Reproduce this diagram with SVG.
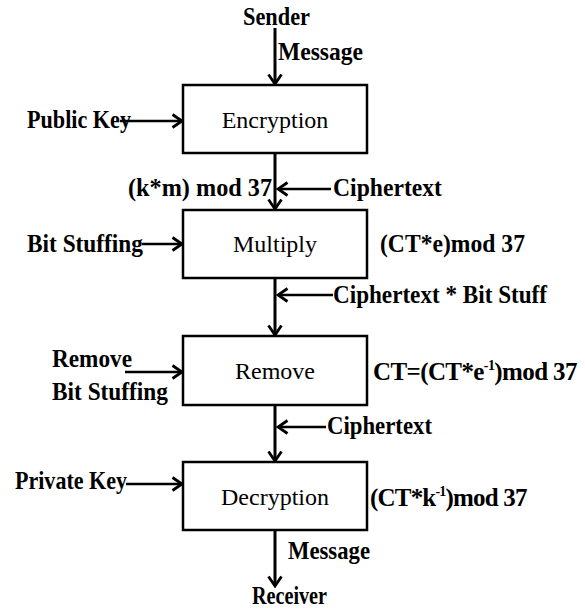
<svg xmlns="http://www.w3.org/2000/svg" width="585" height="612" viewBox="0 0 585 612">
<style>
.box{fill:#fff;stroke:#000;stroke-width:2.5}
.lbl{font-family:"Liberation Serif",serif;font-size:24px;fill:#000;text-anchor:middle}
.b{font-family:"Liberation Serif",serif;font-size:25px;font-weight:bold;fill:#000}
.ln{stroke:#000;stroke-width:3;fill:none}
.hn{stroke:#000;stroke-width:2.5;fill:none}
</style>
<defs>
<marker id="ah" markerWidth="13" markerHeight="16" refX="11" refY="8" orient="auto" markerUnits="userSpaceOnUse">
<path d="M1.5,1.5 L11,8 L1.5,14.5" fill="none" stroke="#000" stroke-width="2.8"/>
</marker>
</defs>
<g id="connectors">
<line class="ln" x1="275" y1="28" x2="275" y2="84" marker-end="url(#ah)"/>
<line class="ln" x1="275" y1="153" x2="275" y2="209" marker-end="url(#ah)"/>
<line class="ln" x1="275" y1="278" x2="275" y2="335" marker-end="url(#ah)"/>
<line class="ln" x1="275" y1="405" x2="275" y2="461" marker-end="url(#ah)"/>
<line class="ln" x1="275" y1="530" x2="275" y2="586" marker-end="url(#ah)"/>
<line class="hn" x1="120" y1="121" x2="182" y2="121" marker-end="url(#ah)"/>
<line class="hn" x1="142" y1="244" x2="182" y2="244" marker-end="url(#ah)"/>
<line class="hn" x1="125" y1="372" x2="182" y2="372" marker-end="url(#ah)"/>
<line class="hn" x1="126" y1="484" x2="182" y2="484" marker-end="url(#ah)"/>
<line class="hn" x1="331" y1="189" x2="278" y2="189" marker-end="url(#ah)"/>
<line class="hn" x1="333" y1="295" x2="278" y2="295" marker-end="url(#ah)"/>
<line class="hn" x1="326" y1="427" x2="278" y2="427" marker-end="url(#ah)"/>
</g>
<g id="sender"><text class="b" x="243" y="25" textLength="67" lengthAdjust="spacingAndGlyphs">Sender</text></g>
<g id="msg-top"><text class="b" x="278" y="60" textLength="85" lengthAdjust="spacingAndGlyphs">Message</text></g>
<g id="encryption">
<rect class="box" x="183" y="85" width="184" height="68"/>
<text class="lbl" x="275" y="128" font-family="Liberation Serif">Encryption</text>
</g>
<g id="public-key"><text class="b" x="27" y="128" textLength="104" lengthAdjust="spacingAndGlyphs">Public Key</text></g>
<g id="km"><text class="b" x="128" y="196" textLength="144" lengthAdjust="spacingAndGlyphs">(k*m) mod 37</text></g>
<g id="ct1"><text class="b" x="333" y="196" textLength="109" lengthAdjust="spacingAndGlyphs">Ciphertext</text></g>
<g id="multiply">
<rect class="box" x="183" y="210" width="184" height="68"/>
<text class="lbl" x="275" y="252" font-family="Liberation Serif">Multiply</text>
</g>
<g id="bit-stuffing"><text class="b" x="27" y="252" textLength="116" lengthAdjust="spacingAndGlyphs">Bit Stuffing</text></g>
<g id="cte"><text class="b" x="380" y="252" textLength="145" lengthAdjust="spacingAndGlyphs">(CT*e)mod 37</text></g>
<g id="ct-bs"><text class="b" x="333" y="303" textLength="214" lengthAdjust="spacingAndGlyphs">Ciphertext * Bit Stuff</text></g>
<g id="remove">
<rect class="box" x="183" y="336" width="184" height="69"/>
<text class="lbl" x="275" y="379" font-family="Liberation Serif">Remove</text>
</g>
<g id="remove-bs">
<text class="b" x="52" y="367" textLength="80" lengthAdjust="spacingAndGlyphs">Remove</text>
<text class="b" x="52" y="400" textLength="116" lengthAdjust="spacingAndGlyphs">Bit Stuffing</text>
</g>
<g id="cte-inv"><text class="b" x="373" y="380" letter-spacing="-0.6">CT=(CT*e<tspan font-size="14" dy="-10">-1</tspan><tspan dy="10">)mod 37</tspan></text></g>
<g id="ct3"><text class="b" x="327" y="434" textLength="105" lengthAdjust="spacingAndGlyphs">Ciphertext</text></g>
<g id="decryption">
<rect class="box" x="183" y="462" width="184" height="68"/>
<text class="lbl" x="275" y="505" font-family="Liberation Serif">Decryption</text>
</g>
<g id="private-key"><text class="b" x="15" y="489" textLength="112" lengthAdjust="spacingAndGlyphs">Private Key</text></g>
<g id="ctk-inv"><text class="b" x="370" y="506" letter-spacing="-0.8">(CT*k<tspan font-size="14" dy="-10">-1</tspan><tspan dy="10">)mod 37</tspan></text></g>
<g id="msg-bottom"><text class="b" x="288" y="559" textLength="82" lengthAdjust="spacingAndGlyphs">Message</text></g>
<g id="receiver"><text class="b" x="252" y="604" font-size="23" textLength="75" lengthAdjust="spacingAndGlyphs">Receiver</text></g>
</svg>
